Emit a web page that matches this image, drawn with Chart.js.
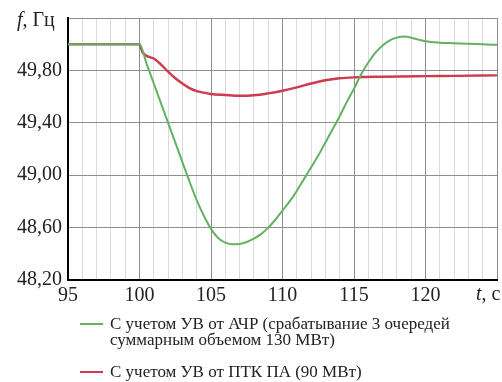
<!DOCTYPE html>
<html>
<head>
<meta charset="utf-8">
<script src="https://cdn.jsdelivr.net/npm/chart.js@4/dist/chart.umd.min.js"></script>
<style>
    body{margin:0;background:#fff;}
    #wrap{position:relative;width:502px;height:382px;}
    #chart{position:absolute;left:0;top:0;}
    .legend-item{position:absolute;left:80px;font-family:"Liberation Serif",serif;font-size:17px;line-height:16px;color:#222;}
    .legend-item .swatch{position:absolute;left:0;top:7px;width:23px;height:2px;}
    .legend-item .txt{position:absolute;left:30px;white-space:nowrap;}
</style>
</head>
<body>
<div id="wrap">
    <canvas id="chart" width="502" height="382"></canvas>
    <div class="legend-item" style="top:316px;"><div class="swatch" style="background:#62b262"></div><div class="txt">С учетом УВ от АЧР (срабатывание 3 очередей<br>суммарным объемом 130 МВт)</div></div>
    <div class="legend-item" style="top:364px;"><div class="swatch" style="background:#cf3a4e"></div><div class="txt">С учетом УВ от ПТК ПА (90 МВт)</div></div>
</div>
<script>
//time, s
var greenT = [95, 100, 100.5, 101, 101.5, 102, 102.5, 103, 103.5, 104, 104.5, 105, 105.5, 106, 106.5, 107, 107.5, 108, 108.5, 109, 109.5, 110, 110.5, 111, 111.5, 112, 112.5, 113, 113.5, 114, 114.5, 115, 115.5, 116, 116.5, 117, 117.5, 118, 118.5, 119, 119.5, 120, 121, 122, 123, 124, 125];
//frequency, Hz - with AChR
var greenF = [50.00, 50.00, 49.85, 49.70, 49.55, 49.40, 49.25, 49.10, 48.95, 48.81, 48.69, 48.59, 48.52, 48.485, 48.472, 48.475, 48.49, 48.515, 48.55, 48.60, 48.66, 48.73, 48.80, 48.88, 48.97, 49.06, 49.15, 49.25, 49.35, 49.45, 49.56, 49.66, 49.77, 49.86, 49.935, 49.99, 50.03, 50.05, 50.058, 50.05, 50.035, 50.022, 50.012, 50.008, 50.003, 50.00, 49.995];

var redT = [95, 100, 100.2, 101, 101.5, 102, 102.5, 103, 103.5, 104, 104.5, 105, 106, 107, 108, 109, 110, 111, 112, 113, 114, 115, 117, 120, 122, 125];
//frequency, Hz - with PTK PA
var redF = [50.00, 50.00, 49.94, 49.89, 49.845, 49.79, 49.74, 49.70, 49.665, 49.642, 49.63, 49.62, 49.612, 49.606, 49.61, 49.625, 49.645, 49.67, 49.70, 49.725, 49.74, 49.747, 49.752, 49.756, 49.758, 49.762];

var xLabels = [95, 100, 105, 110, 115, 120];
var yLabels = [48.2, 48.6, 49.0, 49.4, 49.8];

var fontFamily = '"Liberation Serif", serif';

function toPoints(xs, ys){
    return xs.map(function(x, i){ return {x: x, y: ys[i]}; });
}

//axis titles f, Hz and t, s with italic letters
var axisTitles = {
    id: 'axisTitles',
    afterDraw: function(chart){
        var ctx = chart.ctx;
        ctx.save();
        ctx.fillStyle = '#222';
        ctx.textBaseline = 'alphabetic';
        ctx.textAlign = 'left';
        ctx.font = 'italic 20px ' + fontFamily;
        ctx.fillText('f', 17, 26);
        var w = ctx.measureText('f').width;
        ctx.font = '20px ' + fontFamily;
        ctx.fillText(', Гц', 17 + w, 26);

        ctx.font = 'italic 20px ' + fontFamily;
        ctx.fillText('t', 476, 300);
        w = ctx.measureText('t').width;
        ctx.font = '20px ' + fontFamily;
        ctx.fillText(', с', 476 + w, 300);
        ctx.restore();
    }
};

var options = {
    responsive: false,
    animation: false,
    layout: {padding: {left: 0, right: 5, top: 13, bottom: 0}},
    plugins: {legend: {display: false}, tooltip: {enabled: false}},
    scales: {
        x: {
            type: 'linear',
            min: 95,
            max: 125,
            afterFit: function(scale){ scale.height = 102; },
            ticks: {
                stepSize: 1,
                autoSkip: false,
                maxRotation: 0,
                padding: 4,
                color: '#222',
                font: {family: fontFamily, size: 20},
                callback: function(v){ return xLabels.indexOf(v) >= 0 ? String(v) : ''; }
            },
            grid: {
                drawTicks: false,
                color: function(c){ return (c.tick && c.tick.value % 5 === 0) ? '#8e8e8e' : '#dcdcdc'; }
            },
            border: {color: '#000', width: 2}
        },
        y: {
            min: 48.2,
            max: 50.2,
            afterFit: function(scale){ scale.width = 68; },
            ticks: {
                stepSize: 0.2,
                padding: 6,
                color: '#222',
                font: {family: fontFamily, size: 20},
                callback: function(v){
                    var r = Math.round(v * 10);
                    var ok = yLabels.some(function(l){ return Math.round(l * 10) === r; });
                    return ok ? v.toFixed(2).replace('.', ',') : '';
                }
            },
            grid: {drawTicks: false, color: '#8e8e8e'},
            border: {color: '#000', width: 2}
        }
    }
};

var chart = new Chart(document.getElementById('chart'), {
    type: 'line',
    data: {
        datasets: [
            {label: 'АЧР', data: toPoints(greenT, greenF), borderColor: '#62b262', borderWidth: 2, pointRadius: 0, cubicInterpolationMode: 'monotone'},
            {label: 'ПТК ПА', data: toPoints(redT, redF), borderColor: '#cf3a4e', borderWidth: 2.4, pointRadius: 0, cubicInterpolationMode: 'monotone'}
        ]
    },
    options: options,
    plugins: [axisTitles]
});
</script>
</body>
</html>
